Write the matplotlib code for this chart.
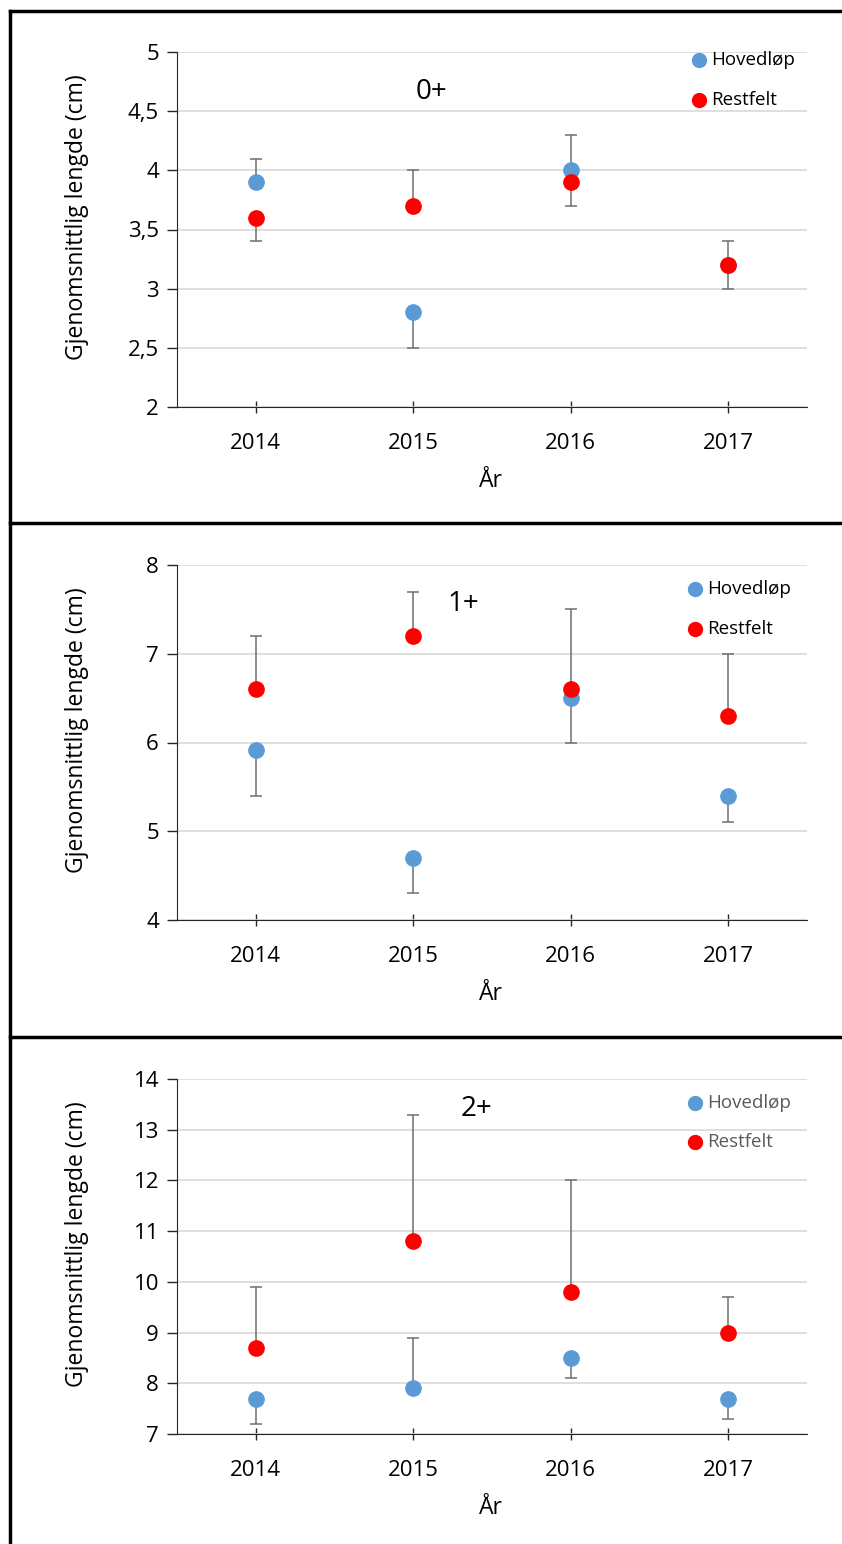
import matplotlib
matplotlib.use("Agg")
import matplotlib.pyplot as plt
from matplotlib.lines import Line2D

plt.rcParams['font.family'] = ['Open Sans', 'DejaVu Sans']

# data
years = ['2014', '2015', '2016', '2017']
groups = ['0+', '1+', '2+']

hoved_0 = [3.9, 2.8, 4.0, 3.2]
hoved_0_up = [0.2, 0.0, 0.3, 0.2]
hoved_0_down = [0.0, 0.3, 0.0, 0.0]
rest_0 = [3.6, 3.7, 3.9, 3.2]
rest_0_up = [0.0, 0.3, 0.0, 0.0]
rest_0_down = [0.2, 0.0, 0.2, 0.2]

hoved_1 = [5.92, 4.7, 6.5, 5.4]
hoved_1_up = [0.0, 0.0, 0.0, 0.0]
hoved_1_down = [0.52, 0.4, 0.5, 0.3]
rest_1 = [6.6, 7.2, 6.6, 6.3]
rest_1_up = [0.6, 0.5, 0.9, 0.7]
rest_1_down = [0.0, 0.0, 0.0, 0.0]

hoved_2 = [7.7, 7.9, 8.5, 7.7]
hoved_2_up = [0.0, 1.0, 0.0, 0.0]
hoved_2_down = [0.5, 0.0, 0.4, 0.4]
rest_2 = [8.7, 10.8, 9.8, 9.0]
rest_2_up = [1.2, 2.5, 2.2, 0.7]
rest_2_down = [0.0, 0.0, 0.0, 0.0]

y_ranges = [(2, 5, 0.5), (4, 8, 1), (7, 14, 1)]

hoved = [(hoved_0, hoved_0_down, hoved_0_up),
         (hoved_1, hoved_1_down, hoved_1_up),
         (hoved_2, hoved_2_down, hoved_2_up)]
rest = [(rest_0, rest_0_down, rest_0_up),
        (rest_1, rest_1_down, rest_1_up),
        (rest_2, rest_2_down, rest_2_up)]

W, H = 842, 1544
fig = plt.figure(figsize=(W / 100, H / 100), dpi=100)

blue = '#5B9BD5'
red = '#FF0000'
errc = '#6f6f6f'

tops = [52, 565, 1079]
label_pos = [(431, 92), (463, 604), (476, 1109)]
legend_pos = [(699, 60, 40), (695, 589, 40), (695, 1103, 39)]
legend_txt = ['black', 'black', '#595959']
x = list(range(1, len(years) + 1))


def fx(px):
    return px / W


def fy(py):
    return 1 - py / H


for i in range(3):
    top = tops[i]
    ax = fig.add_axes([fx(177), fy(top + 355), fx(807) - fx(177), 355 / H])
    lo, hi, step = y_ranges[i]

    for vals, dn, up, col, name in [(*hoved[i], blue, 'Hovedløp'),
                                    (*rest[i], red, 'Restfelt')]:
        ax.errorbar(x, vals, yerr=[dn, up], fmt='none', ecolor=errc,
                    elinewidth=1.1, capsize=4.5, capthick=1.1, zorder=2)
        ax.plot(x, vals, 'o', color=col, markersize=11, zorder=3, label=name)

    ax.set_xlim(0.5, 4.5)
    ax.set_ylim(lo, hi)
    ticks = []
    t = lo
    while t <= hi + 1e-9:
        ticks.append(t)
        t += step
    ax.set_yticks(ticks)
    ax.set_yticklabels([('%g' % v).replace('.', ',') for v in ticks])
    ax.set_xticks(x)
    ax.set_xticklabels(years)
    ax.grid(axis='y', color='#d9d9d9', linewidth=1.2)
    ax.set_axisbelow(True)
    for s in ['top', 'right']:
        ax.spines[s].set_visible(False)
    ax.spines['left'].set_color('#262626')
    ax.spines['bottom'].set_color('#262626')
    ax.tick_params(axis='y', direction='out', length=7, width=1,
                   color='#262626', labelsize=16, pad=6)
    ax.tick_params(axis='x', direction='inout', length=8, width=1,
                   color='#262626', labelsize=16, pad=15)

    # group label
    lx, ly = label_pos[i]
    fig.text(fx(lx), fy(ly), groups[i], fontsize=20, ha='center', va='center')

    # legend entries
    mx, my, dy = legend_pos[i]
    for k, (col, name) in enumerate([(blue, 'Hovedløp'), (red, 'Restfelt')]):
        yy = my + k * dy
        fig.add_artist(Line2D([fx(mx)], [fy(yy)], marker='o', color=col,
                              markersize=10, linestyle='none'))
        fig.text(fx(mx + 12), fy(yy), name, fontsize=13.5, ha='left',
                 va='center', color=legend_txt[i])

    fig.text(fx(77), fy(top + 165), 'Gjenomsnittlig lengde (cm)', fontsize=16.5,
             rotation=90, ha='center', va='center')
    fig.text(fx(491), fy(top + 429), 'År', fontsize=16.5, ha='center',
             va='center')

# panel frames
fig.add_artist(Line2D([fx(10), fx(10)], [fy(11), 0], color='black', linewidth=2.5))
for yline in [11, 523, 1037]:
    fig.add_artist(Line2D([fx(10), 1], [fy(yline), fy(yline)], color='black',
                          linewidth=2.5))

fig.savefig('out.png', dpi=100)
